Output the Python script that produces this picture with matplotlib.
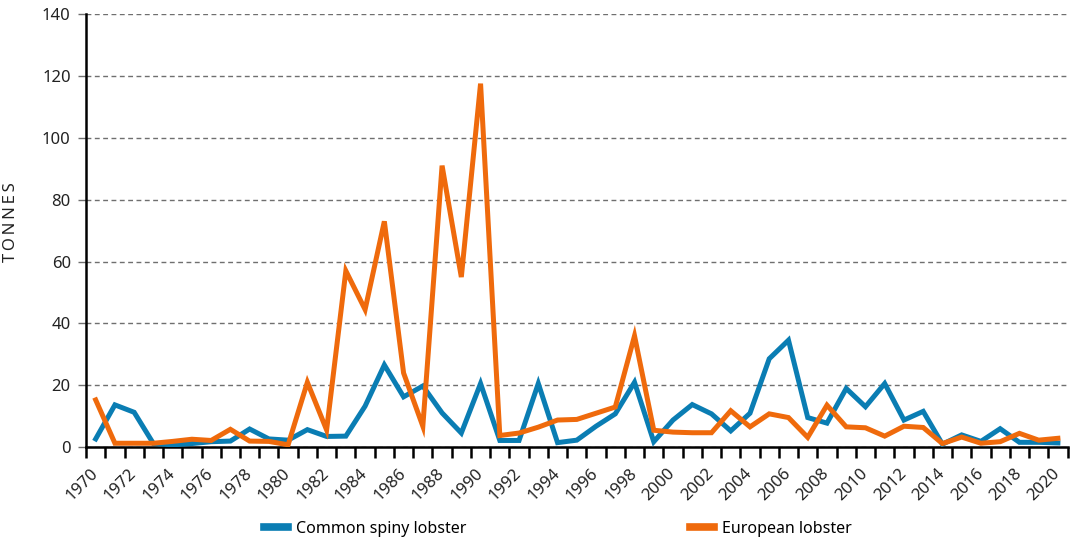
import matplotlib
matplotlib.use("Agg")
import matplotlib.pyplot as plt
from matplotlib.lines import Line2D
import numpy as np

years = list(range(1970, 2021))
spiny = [2.7, 13.7, 11.3, 1.2, 0.8, 1.2, 1.8, 2.0, 5.9, 2.7,
         2.3, 5.7, 3.5, 3.6, 13.3, 26.6, 16.3, 19.8, 11.1, 4.6,
         20.6, 2.2, 2.2, 20.6, 1.5, 2.3, 6.8, 10.8, 21.0, 1.8,
         8.8, 13.8, 10.8, 5.3, 11.0, 28.6, 34.6, 9.6, 7.8, 19.0,
         13.1, 20.6, 8.8, 11.6, 1.0, 4.0, 1.9, 6.0, 1.6, 1.6,
         1.4]
european = [15.3, 1.3, 1.3, 1.3, 1.9, 2.6, 2.2, 5.8, 2.0, 1.9,
            0.8, 21.0, 5.6, 57.0, 44.5, 73.0, 24.0, 6.8, 91.0, 55.0,
            117.5, 3.8, 4.6, 6.5, 8.8, 9.0, 11.0, 13.0, 36.0, 5.5,
            4.9, 4.7, 4.7, 11.8, 6.6, 10.8, 9.6, 3.2, 13.6, 6.6,
            6.3, 3.6, 6.8, 6.4, 1.2, 3.3, 1.3, 1.8, 4.5, 2.3,
            2.9]
series_names = ["Common spiny lobster", "European lobster"]
colors = ["#0a7db3", "#ef6a0c"]
y_ticks = [0, 20, 40, 60, 80, 100, 120, 140]

plt.rcParams["font.family"] = ["Noto Sans", "DejaVu Sans"]

fig = plt.figure(figsize=(10.77, 5.44), dpi=100)
ax = fig.add_axes([0.0799, 0.1778, 0.9113, 0.7965])

x = np.arange(len(years)) + 0.5
ax.plot(x, spiny, color=colors[0], lw=3.6, solid_joinstyle="miter", zorder=3)
ax.plot(x, european, color=colors[1], lw=3.6, solid_joinstyle="miter", zorder=4)

ax.set_xlim(0, len(years))
ax.set_ylim(0, 140)
ax.set_yticks(y_ticks)
ax.yaxis.grid(True, linestyle=(0, (3.5, 2.5)), color="#6f6f6f", lw=1.0)
ax.set_axisbelow(True)

ax.set_xticks(np.arange(len(years) + 1))
ax.set_xticklabels([])
ax.set_xticks(x[::2], minor=True)
ax.set_xticklabels([str(y) for y in years[::2]], minor=True,
                   rotation=45, ha="right", va="center", rotation_mode="anchor",
                   fontsize=12, color="#222222")
ax.tick_params(axis="x", which="major", length=8, width=1.8, direction="out", color="black")
ax.tick_params(axis="x", which="minor", length=0, pad=17)
ax.tick_params(axis="y", length=6, width=1.0, color="#6f6f6f", labelsize=12,
               labelcolor="#222222", pad=5)

for side in ["top", "right"]:
    ax.spines[side].set_visible(False)
ax.spines["left"].set_linewidth(1.8)
ax.spines["bottom"].set_linewidth(1.8)

ax.set_ylabel("T\u2009O\u2009N\u2009N\u2009E\u2009S", fontsize=12, color="#222222")
ax.yaxis.set_label_coords(-0.068, 0.52)

handles = [Line2D([], [], color=c, lw=5.5) for c in colors]
fig.legend(handles, series_names, loc="center", bbox_to_anchor=(0.518, 0.028),
           ncol=2, frameon=False, fontsize=11.5, handlelength=1.5,
           handletextpad=0.5, columnspacing=14)

fig.savefig("out.png", dpi=100)
